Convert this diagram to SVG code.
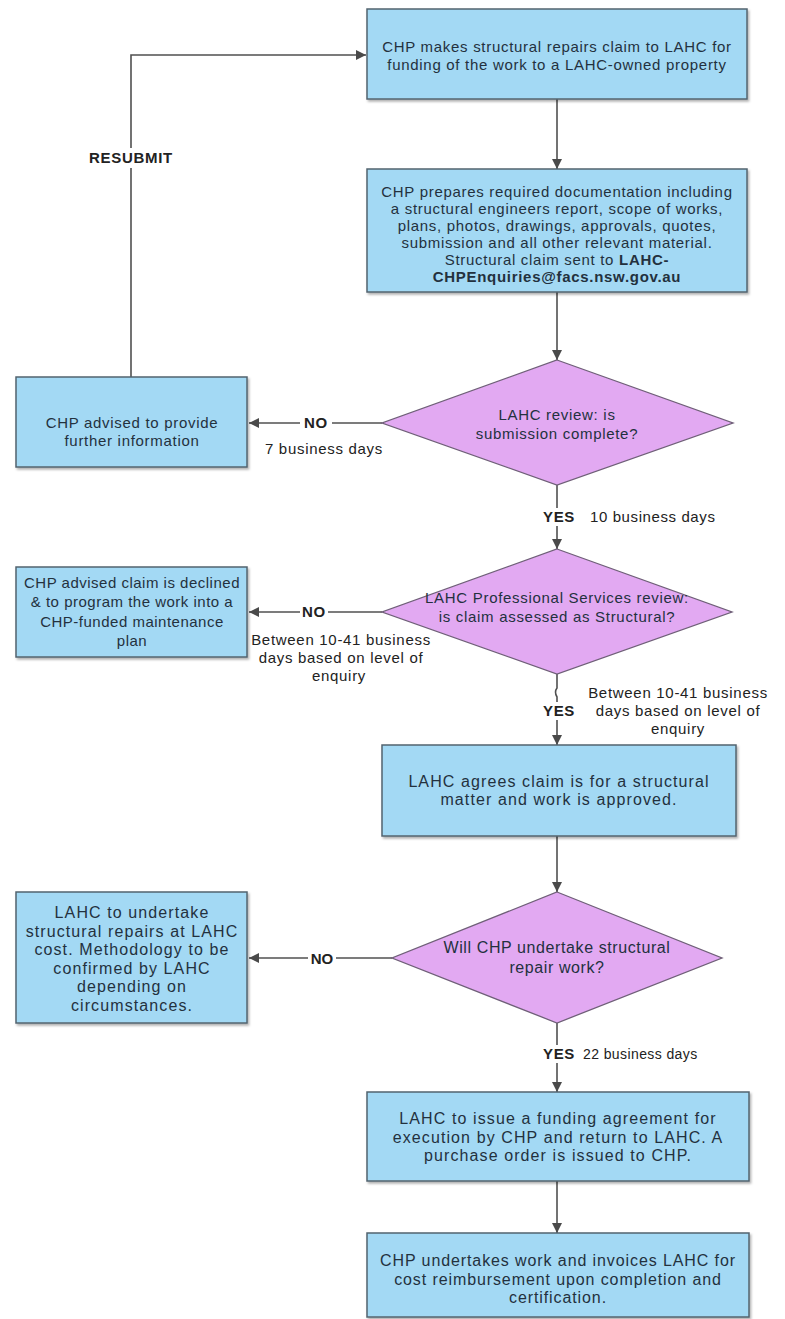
<svg xmlns="http://www.w3.org/2000/svg" width="785" height="1319" viewBox="0 0 785 1319">
<defs>
<marker id="arr" viewBox="0 0 10 10" refX="10" refY="5" markerWidth="10" markerHeight="10" markerUnits="userSpaceOnUse" orient="auto">
<path d="M0,0 L10,5 L0,10 Z" fill="#4a4a4a"/>
</marker>
<filter id="sh" x="-5%" y="-5%" width="115%" height="120%">
<feDropShadow dx="1.5" dy="2" stdDeviation="1.2" flood-color="#000" flood-opacity="0.3"/>
</filter>
</defs>
<style>
.box{fill:#a3d9f4;stroke:#53646f;stroke-width:1.5;filter:url(#sh)}
.dia{fill:#e2a9f2;stroke:#6f5f78;stroke-width:1.3}
.ln{fill:none;stroke:#505050;stroke-width:1.6}
.t1{font-family:"Liberation Sans",Arial,sans-serif;font-size:15px;letter-spacing:0.7px;fill:#23313e;text-anchor:middle}
.t2{font-family:"Liberation Sans",Arial,sans-serif;font-size:16px;letter-spacing:1.1px;fill:#23313e;text-anchor:middle}
.lb{font-family:"Liberation Sans",Arial,sans-serif;font-size:15px;letter-spacing:0.7px;fill:#222;text-anchor:middle}
.lbs{font-family:"Liberation Sans",Arial,sans-serif;font-size:15px;letter-spacing:0.6px;fill:#222;text-anchor:start}
.bd{font-weight:bold}
.bg{fill:#fff}
</style>
<rect width="785" height="1319" fill="#fff"/>

<g id="connectors">
<path class="ln" d="M557,99 V169" marker-end="url(#arr)"/>
<path class="ln" d="M557,292 V360" marker-end="url(#arr)"/>
<path class="ln" d="M382,423 H249" marker-end="url(#arr)"/>
<path class="ln" d="M131,377 V55 H366" marker-end="url(#arr)"/>
<path class="ln" d="M557,485 V549" marker-end="url(#arr)"/>
<path class="ln" d="M382,612 H249" marker-end="url(#arr)"/>
<path class="ln" d="M557,674 V688 q-3,4 0,9 V745" marker-end="url(#arr)"/>
<path class="ln" d="M557,836 V892" marker-end="url(#arr)"/>
<path class="ln" d="M392,958 H249" marker-end="url(#arr)"/>
<path class="ln" d="M557,1023 V1092" marker-end="url(#arr)"/>
<path class="ln" d="M557,1181 V1233" marker-end="url(#arr)"/>

<rect class="bg" x="86" y="148" width="90" height="20"/>
<text class="lb bd" x="131" y="163">RESUBMIT</text>
<rect class="bg" x="300" y="413" width="32" height="18"/>
<text class="lb bd" x="316" y="428">NO</text>
<text class="lb" x="324" y="454">7 business days</text>
<rect class="bg" x="543" y="508" width="30" height="18"/>
<text class="lb bd" x="559" y="522">YES</text>
<text class="lbs" x="590" y="522">10 business days</text>
<rect class="bg" x="300" y="603" width="28" height="18"/>
<text class="lb bd" x="314" y="617">NO</text>
<text class="lb" x="341" y="645">Between 10-41 business<tspan x="341" dy="18">days based on level of</tspan><tspan x="339" dy="18">enquiry</tspan></text>
<rect class="bg" x="543" y="702" width="30" height="18"/>
<text class="lb bd" x="559" y="716">YES</text>
<text class="lb" x="678" y="698">Between 10-41 business<tspan x="678" dy="18">days based on level of</tspan><tspan x="678" dy="18">enquiry</tspan></text>
<rect class="bg" x="308" y="949" width="28" height="18"/>
<text class="lb bd" x="322" y="964" style="letter-spacing:0">NO</text>
<rect class="bg" x="543" y="1045" width="30" height="18"/>
<text class="lb bd" x="559" y="1059">YES</text>
<text class="lbs" x="583" y="1059" style="font-size:14px;letter-spacing:0.4px">22 business days</text>
</g>

<g id="n1">
<rect class="box" x="367" y="9" width="380" height="90"/>
<text class="t1" x="557" y="52">CHP makes structural repairs claim to LAHC for<tspan x="557" dy="18">funding of the work to a LAHC-owned property</tspan></text>
</g>

<g id="n2">
<rect class="box" x="367" y="169" width="380" height="123"/>
<text class="t1" x="557" y="197">CHP prepares required documentation including<tspan x="557" dy="17">a structural engineers report, scope of works,</tspan><tspan x="557" dy="17">plans, photos, drawings, approvals, quotes,</tspan><tspan x="557" dy="17">submission and all other relevant material.</tspan><tspan x="557" dy="17">Structural claim sent to <tspan class="bd">LAHC-</tspan></tspan><tspan x="557" dy="17" class="bd">CHPEnquiries@facs.nsw.gov.au</tspan></text>
</g>

<g id="n3">
<polygon class="dia" points="557,360 733,423 557,485 382,423"/>
<text class="t1" x="557" y="420">LAHC review: is<tspan x="557" dy="19">submission complete?</tspan></text>
</g>

<g id="n4">
<rect class="box" x="16" y="377" width="231" height="90"/>
<text class="t1" x="132" y="428">CHP advised to provide<tspan x="132" dy="18">further information</tspan></text>
</g>

<g id="n5">
<polygon class="dia" points="557,549 732,612 557,674 382,612"/>
<text class="t1" x="557" y="603">LAHC Professional Services review:<tspan x="557" dy="19">is claim assessed as Structural?</tspan></text>
</g>

<g id="n6">
<rect class="box" x="16" y="567" width="231" height="90"/>
<text class="t1" x="132" y="588" style="letter-spacing:0.5px">CHP advised claim is declined<tspan x="132" dy="19.3">&amp; to program the work into a</tspan><tspan x="132" dy="19.3">CHP-funded maintenance</tspan><tspan x="132" dy="19.3">plan</tspan></text>
</g>

<g id="n7">
<rect class="box" x="382" y="745" width="354" height="91"/>
<text class="t2" x="559" y="787">LAHC agrees claim is for a structural<tspan x="559" dy="18">matter and work is approved.</tspan></text>
</g>

<g id="n8">
<polygon class="dia" points="557,892 722,958 557,1023 392,958"/>
<text class="t2" x="557" y="953" style="letter-spacing:0.6px">Will CHP undertake structural<tspan x="557" dy="20">repair work?</tspan></text>
</g>

<g id="n9">
<rect class="box" x="16" y="892" width="231" height="131"/>
<text class="t2" x="132" y="918">LAHC to undertake<tspan x="132" dy="18.6">structural repairs at LAHC</tspan><tspan x="132" dy="18.6">cost. Methodology to be</tspan><tspan x="132" dy="18.6">confirmed by LAHC</tspan><tspan x="132" dy="18.6">depending on</tspan><tspan x="132" dy="18.6">circumstances.</tspan></text>
</g>

<g id="n10">
<rect class="box" x="367" y="1092" width="382" height="89"/>
<text class="t2" x="558" y="1124">LAHC to issue a funding agreement for<tspan x="558" dy="18.5">execution by CHP and return to LAHC. A</tspan><tspan x="558" dy="18.5">purchase order is issued to CHP.</tspan></text>
</g>

<g id="n11">
<rect class="box" x="367" y="1233" width="382" height="84"/>
<text class="t2" x="558" y="1266" style="letter-spacing:0.9px">CHP undertakes work and invoices LAHC for<tspan x="558" dy="18.5">cost reimbursement upon completion and</tspan><tspan x="558" dy="18.5">certification.</tspan></text>
</g>
</svg>
